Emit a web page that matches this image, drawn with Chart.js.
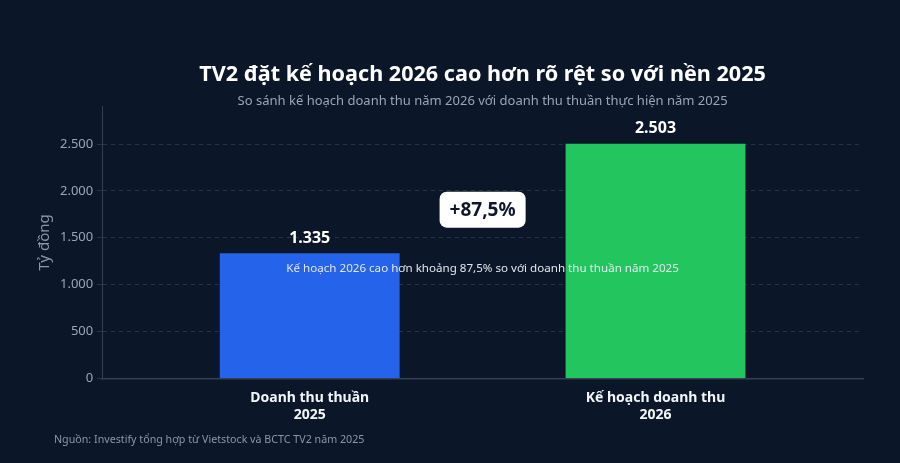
<!DOCTYPE html>
<html>
<head>
<meta charset="utf-8">
<script src="https://cdn.jsdelivr.net/npm/chart.js@4.4.1/dist/chart.umd.min.js"></script>
<style>
  html, body { margin: 0; padding: 0; background: #0b1628; }
  #wrap { width: 900px; height: 463px; }
</style>
</head>
<body>
<div id="wrap"><canvas id="c"></canvas></div>
<script>
// data
const categories = [['Doanh thu thuần', '2025'], ['Kế hoạch doanh thu', '2026']];
const revenue = [1335, 2503];
const barColors = ['#2563eb', '#22c55e'];
const yTicks = [0, 500, 1000, 1500, 2000, 2500];
const badgeY = 1800;
const noteY = 1165;
const noteText = 'Kế hoạch 2026 cao hơn khoảng 87,5% so với doanh thu thuần năm 2025';
const sourceText = 'Nguồn: Investify tổng hợp từ Vietstock và BCTC TV2 năm 2025';

const fmt = v => v.toLocaleString('de-DE');
const growth = ((revenue[1] / revenue[0] - 1) * 100).toFixed(1).replace('.', ',');

const FONT = '"Noto Sans", "Open Sans", sans-serif';

const overlay = {
  id: 'overlay',
  afterDatasetsDraw(chart) {
    const ctx = chart.ctx;
    const xs = chart.scales.x, ys = chart.scales.y;
    ctx.save();
    // value labels above bars
    chart.getDatasetMeta(0).data.forEach((bar, i) => {
      ctx.fillStyle = '#ffffff';
      ctx.font = 'bold 16px ' + FONT;
      ctx.textAlign = 'center';
      ctx.textBaseline = 'middle';
      ctx.fillText(fmt(revenue[i]), bar.x, bar.y - 15);
    });
    // growth badge
    const cx = xs.getPixelForValue(0.5);
    const by = ys.getPixelForValue(badgeY);
    const label = '+' + growth + '%';
    ctx.font = 'bold 19px ' + FONT;
    const w = ctx.measureText(label).width + 20, h = 36;
    ctx.fillStyle = '#ffffff';
    ctx.beginPath();
    ctx.roundRect(cx - w / 2, by - h / 2, w, h, 7);
    ctx.fill();
    ctx.fillStyle = '#0f172a';
    ctx.fillText(label, cx, by + 1);
    // note
    ctx.font = '11.6px ' + FONT;
    ctx.fillStyle = '#e2e8f0';
    ctx.fillText(noteText, cx, ys.getPixelForValue(noteY));
    // source
    ctx.font = '10.7px ' + FONT;
    ctx.fillStyle = '#8b97a8';
    ctx.textAlign = 'left';
    ctx.fillText(sourceText, 54, 440);
    ctx.restore();
  }
};

new Chart(document.getElementById('c'), {
  type: 'bar',
  data: {
    datasets: [{
      data: revenue.map((v, i) => ({ x: i, y: v })),
      backgroundColor: barColors,
      borderWidth: 0,
      categoryPercentage: 1,
      barPercentage: 0.52
    }]
  },
  options: {
    responsive: true,
    maintainAspectRatio: false,
    animation: false,
    layout: { padding: { top: 62, right: 37, bottom: 37, left: 36 } },
    plugins: {
      legend: { display: false },
      tooltip: { enabled: false },
      title: {
        display: true,
        fullSize: false,
        text: 'TV2 đặt kế hoạch 2026 cao hơn rõ rệt so với nền 2025',
        color: '#ffffff',
        font: { family: FONT, size: 21.6, weight: 'bold' },
        padding: { top: 0, bottom: 6 }
      },
      subtitle: {
        display: true,
        fullSize: false,
        text: 'So sánh kế hoạch doanh thu năm 2026 với doanh thu thuần thực hiện năm 2025',
        color: '#9aa6b8',
        font: { family: FONT, size: 13 },
        padding: { top: 0, bottom: -3 }
      }
    },
    scales: {
      x: {
        type: 'linear',
        offset: false,
        min: -0.6,
        max: 1.6,
        afterBuildTicks: s => { s.ticks = categories.map((_, i) => ({ value: i })); },
        ticks: {
          callback: v => categories[v],
          color: '#f1f5f9',
          font: { family: FONT, size: 14, weight: 'bold' },
          padding: 3,
          autoSkip: false,
          maxRotation: 0
        },
        grid: { display: false },
        border: { display: true, color: '#334155', width: 1.5 }
      },
      y: {
        min: 0,
        max: 2900,
        afterBuildTicks: s => { s.ticks = yTicks.map(v => ({ value: v })); },
        ticks: {
          callback: v => fmt(v),
          color: '#9aa6b8',
          font: { family: FONT, size: 13 },
          padding: 4
        },
        grid: { color: 'rgba(148,163,184,0.22)', tickLength: 5, drawTicks: true },
        border: { display: true, color: '#334155', width: 1, dash: [4, 4] },
        title: {
          display: true,
          text: 'Tỷ đồng',
          color: '#8b97a8',
          font: { family: FONT, size: 15 },
          padding: { top: 0, bottom: 2 }
        }
      }
    }
  },
  plugins: [overlay]
});
</script>
</body>
</html>
